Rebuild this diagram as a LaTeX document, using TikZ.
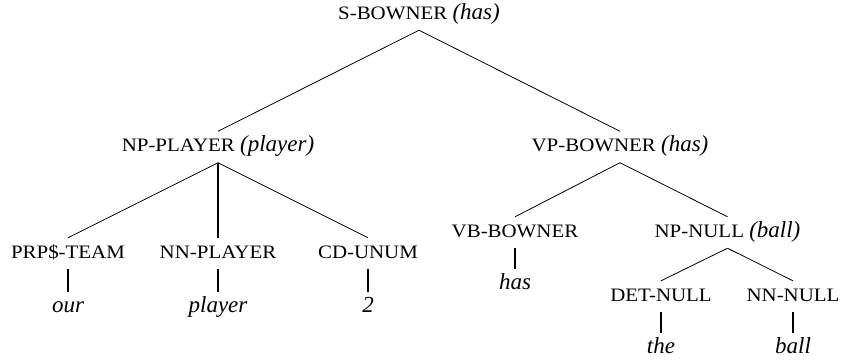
\documentclass[tikz,border=0pt]{standalone}
\usepackage{fontspec}
\setmainfont{Liberation Serif}
\newfontfamily\capfont[FakeStretch=1.1]{Liberation Serif}
\newcommand\hw[1]{{\normalfont\itshape\fontsize{23}{26}\selectfont #1}}
\tikzset{
  lab/.style={anchor=base, inner sep=0pt, text height=20pt, text depth=11pt,
    font=\capfont\fontsize{19}{22}\selectfont},
  wd/.style={lab, font=\itshape\fontsize{23}{26}\selectfont},
  br/.style={line width=0.8pt},
  vbr/.style={line width=1.4pt}
}
\begin{document}
\begin{tikzpicture}[x=1pt,y=-1pt]
\fill[white] (0,0) rectangle (841,362);
\useasboundingbox (0,0) rectangle (841,362);
\node[lab] (s) at (419,19) {S-BOWNER \hw{(has)}};
\node[lab] (np) at (218,151.5) {NP-PLAYER \hw{(player)}};
\node[lab] (vp) at (620,151.5) {VP-BOWNER \hw{(has)}};
\node[lab] (prp) at (68,258) {PRP\$-TEAM};
\node[lab] (nn) at (218,258) {NN-PLAYER};
\node[lab] (cd) at (368,258) {CD-UNUM};
\node[lab] (vb) at (515,237) {VB-BOWNER};
\node[lab] (npn) at (727.5,237) {NP-NULL \hw{(ball)}};
\node[lab] (det) at (661,301) {DET-NULL};
\node[lab] (nnn) at (793,301) {NN-NULL};
\node[wd] (our) at (68,312) {our};
\node[wd] (player) at (218,312) {player};
\node[wd] (two) at (368,312) {2};
\node[wd] (has) at (515,289) {has};
\node[wd] (the) at (661,353) {the};
\node[wd] (ball) at (793,353) {ball};
\draw[br] (s.south) -- (np.north);
\draw[br] (s.south) -- (vp.north);
\draw[br] (np.south) -- (prp.north);
\draw[vbr] (np.south) -- (nn.north);
\draw[br] (np.south) -- (cd.north);
\draw[br] (vp.south) -- (vb.north);
\draw[br] (vp.south) -- (npn.north);
\draw[br] (npn.south) -- (det.north);
\draw[br] (npn.south) -- (nnn.north);
\draw[vbr] (prp.south) -- (our.north);
\draw[vbr] (nn.south) -- (player.north);
\draw[vbr] (cd.south) -- (two.north);
\draw[vbr] (vb.south) -- (has.north);
\draw[vbr] (det.south) -- (the.north);
\draw[vbr] (nnn.south) -- (ball.north);
\end{tikzpicture}
\end{document}
